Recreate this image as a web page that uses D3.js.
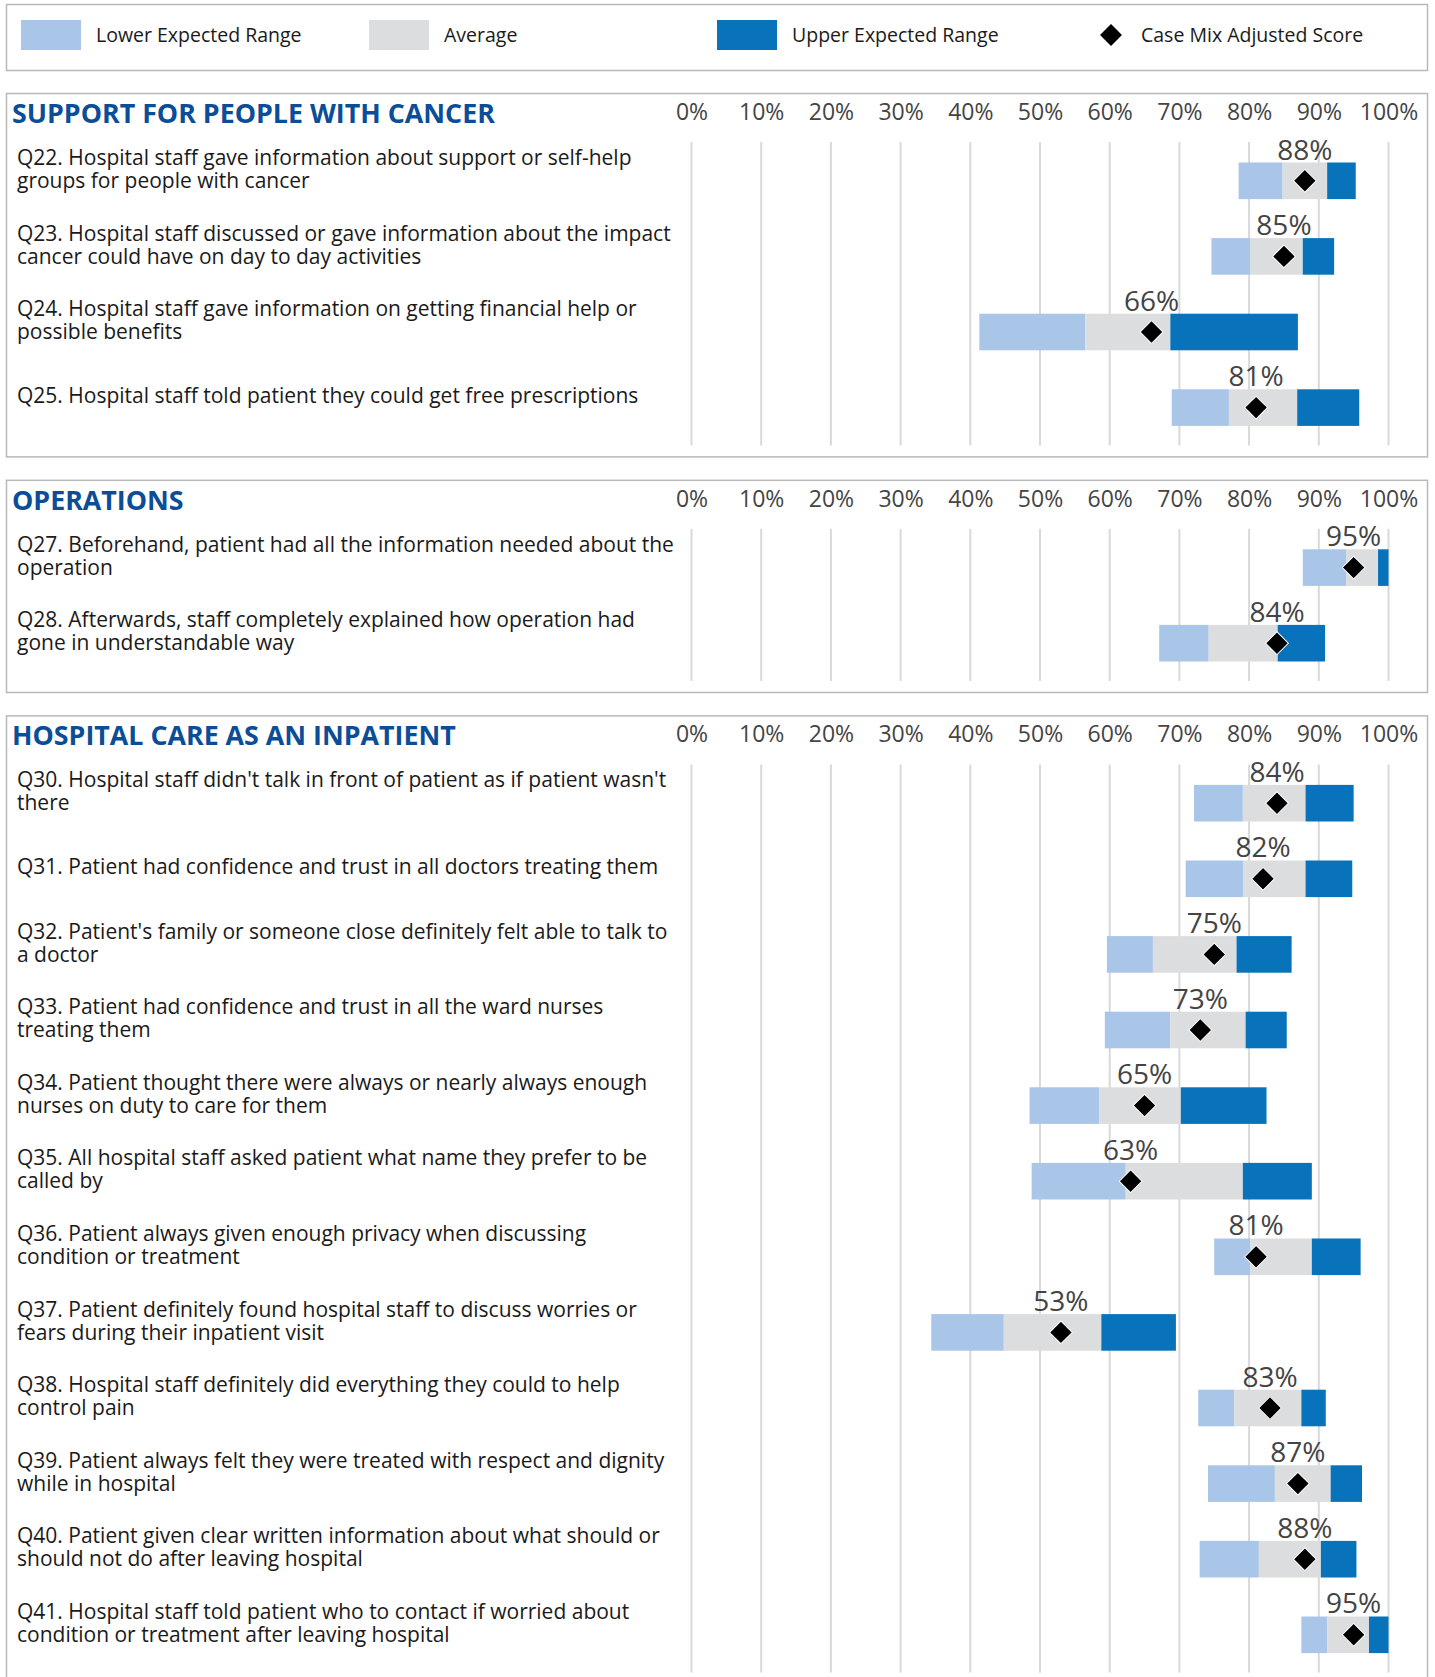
<!DOCTYPE html>
<html>
<head>
<meta charset="utf-8">
<script src="https://cdn.jsdelivr.net/npm/d3@7"></script>
<style>
  body { margin: 0; background: #fff; }
  text { font-family: "Open Sans", "Noto Sans", sans-serif; }
</style>
</head>
<body>
<script>
var width = 1435,
    height = 1677;

// section titles and which section each question belongs to
var sections = ["SUPPORT FOR PEOPLE WITH CANCER", "OPERATIONS", "HOSPITAL CARE AS AN INPATIENT"];
var questionSection = [0, 0, 0, 0, 1, 1, 2, 2, 2, 2, 2, 2, 2, 2, 2, 2, 2, 2];

var questions = [
    "Q22. Hospital staff gave information about support or self-help\ngroups for people with cancer",
    "Q23. Hospital staff discussed or gave information about the impact\ncancer could have on day to day activities",
    "Q24. Hospital staff gave information on getting financial help or\npossible benefits",
    "Q25. Hospital staff told patient they could get free prescriptions",
    "Q27. Beforehand, patient had all the information needed about the\noperation",
    "Q28. Afterwards, staff completely explained how operation had\ngone in understandable way",
    "Q30. Hospital staff didn't talk in front of patient as if patient wasn't\nthere",
    "Q31. Patient had confidence and trust in all doctors treating them",
    "Q32. Patient's family or someone close definitely felt able to talk to\na doctor",
    "Q33. Patient had confidence and trust in all the ward nurses\ntreating them",
    "Q34. Patient thought there were always or nearly always enough\nnurses on duty to care for them",
    "Q35. All hospital staff asked patient what name they prefer to be\ncalled by",
    "Q36. Patient always given enough privacy when discussing\ncondition or treatment",
    "Q37. Patient definitely found hospital staff to discuss worries or\nfears during their inpatient visit",
    "Q38. Hospital staff definitely did everything they could to help\ncontrol pain",
    "Q39. Patient always felt they were treated with respect and dignity\nwhile in hospital",
    "Q40. Patient given clear written information about what should or\nshould not do after leaving hospital",
    "Q41. Hospital staff told patient who to contact if worried about\ncondition or treatment after leaving hospital"
];

// range boundaries (%)
var lowerFrom   = [78.5, 74.6, 41.3, 68.9, 87.7, 67.1, 72.1, 70.9, 59.6, 59.3, 48.5, 48.8, 75.0, 34.4, 72.7, 74.1, 72.9, 87.5];
var averageFrom = [84.8, 80.2, 56.5, 77.1, 93.9, 74.2, 79.1, 79.2, 66.2, 68.7, 58.5, 62.3, 80.2, 44.8, 77.9, 83.7, 81.4, 91.2];
var upperFrom   = [91.2, 87.7, 68.7, 86.9, 98.5, 84.1, 88.1, 88.1, 78.2, 79.5, 70.2, 79.1, 89.0, 58.8, 87.5, 91.7, 90.3, 97.2];
var upperTo     = [95.3, 92.2, 87.0, 95.8, 100, 90.9, 95.0, 94.8, 86.1, 85.4, 82.5, 89.0, 96.0, 69.5, 91.0, 96.2, 95.4, 100];
var scores      = [88, 85, 66, 81, 95, 84, 84, 82, 75, 73, 65, 63, 81, 53, 83, 87, 88, 95];

var tickValues = [0, 10, 20, 30, 40, 50, 60, 70, 80, 90, 100];

var legendItems = ["Lower Expected Range", "Average", "Upper Expected Range", "Case Mix Adjusted Score"];
var colors = {lower: "#a9c6e8", average: "#dcdddf", upper: "#0873bb"};

var svg = d3.select("body").append("svg")
    .attr("width", width)
    .attr("height", height)

var x = d3.scaleLinear().domain([0, 100]).range([691.5, 1388.5]);

var boxLeft = 6.5, boxRight = 1427.5;
var rowStep = 75.6, barH = 36.6;

/* legend */
var legend = svg.append("g")
legend.append("rect")
    .attr("x", boxLeft).attr("y", 4.5)
    .attr("width", boxRight - boxLeft).attr("height", 66)
    .attr("fill", "none").attr("stroke", "#b8b8b8").attr("stroke-width", 1.5)

var legendX = [21, 369, 717, 1111];
var legendFill = [colors.lower, colors.average, colors.upper, null];
legendItems.forEach(function (name, i) {
    if (legendFill[i]) {
        legend.append("rect")
            .attr("x", legendX[i]).attr("y", 20)
            .attr("width", 60).attr("height", 30)
            .attr("fill", legendFill[i])
        legend.append("text")
            .attr("x", legendX[i] + 75).attr("y", 35)
            .attr("dy", "0.35em")
            .attr("font-size", 19.5)
            .attr("fill", "#1a1a1a")
            .text(name)
    } else {
        legend.append("path")
            .attr("d", d3.symbol(d3.symbolSquare, 240)())
            .attr("transform", "translate(" + legendX[i] + ",35) rotate(45)")
            .attr("fill", "#000")
        legend.append("text")
            .attr("x", legendX[i] + 30).attr("y", 35)
            .attr("dy", "0.35em")
            .attr("font-size", 19.5)
            .attr("fill", "#1a1a1a")
            .text(name)
    }
})

/* sections */
var sectionTop = 93;
sections.forEach(function (title, s) {
    var idx = d3.range(questions.length).filter(function (i) { return questionSection[i] === s });
    var n = idx.length;
    var boxH = 61 + n * rowStep;
    var firstBar = 69.5;

    var g = svg.append("g").attr("transform", "translate(0," + sectionTop + ")")

    var y = d3.scaleBand()
        .domain(idx)
        .range([firstBar, firstBar + n * rowStep - (rowStep - barH)])
        .paddingInner(1 - barH / rowStep)
        .paddingOuter(0)

    g.append("rect")
        .attr("x", boxLeft).attr("y", 0.5)
        .attr("width", boxRight - boxLeft).attr("height", boxH)
        .attr("fill", "none").attr("stroke", "#b8b8b8").attr("stroke-width", 1.5)

    g.append("text")
        .attr("x", 12).attr("y", 30)
        .attr("font-size", 26.8)
        .attr("font-weight", 700)
        .attr("fill", "#0b4d97")
        .text(title)

    // gridlines
    var gridBottom = firstBar + n * rowStep - (rowStep - barH) + 19.5;
    g.selectAll(".grid")
        .data(tickValues)
        .enter().append("line")
        .attr("x1", function (d) { return x(d) })
        .attr("x2", function (d) { return x(d) })
        .attr("y1", 49).attr("y2", gridBottom)
        .attr("stroke", "#d9d9d9").attr("stroke-width", 2)

    // axis labels
    var axis = g.append("g")
        .attr("transform", "translate(0,30)")
        .call(d3.axisTop(x).tickValues(tickValues).tickSize(0).tickFormat(function (d) { return d + "%" }))
    axis.select(".domain").remove()
    axis.selectAll("text")
        .attr("font-family", "Open Sans, Noto Sans, sans-serif")
        .attr("font-size", 23)
        .attr("fill", "#444")
        .attr("dy", 0)

    var rows = g.selectAll(".row")
        .data(idx)
        .enter().append("g")

    // question text
    rows.each(function (i) {
        var lines = questions[i].split("\n");
        var t = d3.select(this).append("text")
            .attr("font-size", 21)
            .attr("fill", "#1a1a1a")
        lines.forEach(function (line, k) {
            t.append("tspan")
                .attr("x", 17)
                .attr("y", y(i) + 14 + (k - (lines.length - 1) / 2) * 23)
                .text(line)
        })
    })

    rows.append("rect")
        .attr("x", function (i) { return x(lowerFrom[i]) })
        .attr("y", function (i) { return y(i) })
        .attr("width", function (i) { return x(averageFrom[i]) - x(lowerFrom[i]) })
        .attr("height", y.bandwidth())
        .attr("fill", colors.lower)
    rows.append("rect")
        .attr("x", function (i) { return x(averageFrom[i]) })
        .attr("y", function (i) { return y(i) })
        .attr("width", function (i) { return x(upperFrom[i]) - x(averageFrom[i]) })
        .attr("height", y.bandwidth())
        .attr("fill", colors.average)
    rows.append("rect")
        .attr("x", function (i) { return x(upperFrom[i]) })
        .attr("y", function (i) { return y(i) })
        .attr("width", function (i) { return x(upperTo[i]) - x(upperFrom[i]) })
        .attr("height", y.bandwidth())
        .attr("fill", colors.upper)

    rows.append("path")
        .attr("d", d3.symbol(d3.symbolSquare, 260)())
        .attr("transform", function (i) {
            return "translate(" + x(scores[i]) + "," + (y(i) + y.bandwidth() / 2) + ") rotate(45)"
        })
        .attr("fill", "#000")
        .attr("stroke", "#fff")
        .attr("stroke-width", 1)

    rows.append("text")
        .attr("x", function (i) { return x(scores[i]) })
        .attr("y", function (i) { return y(i) - 3 })
        .attr("text-anchor", "middle")
        .attr("font-size", 28)
        .attr("fill", "#444")
        .text(function (i) { return scores[i] + "%" })

    sectionTop += boxH + 23.4;
})
</script>
</body>
</html>
